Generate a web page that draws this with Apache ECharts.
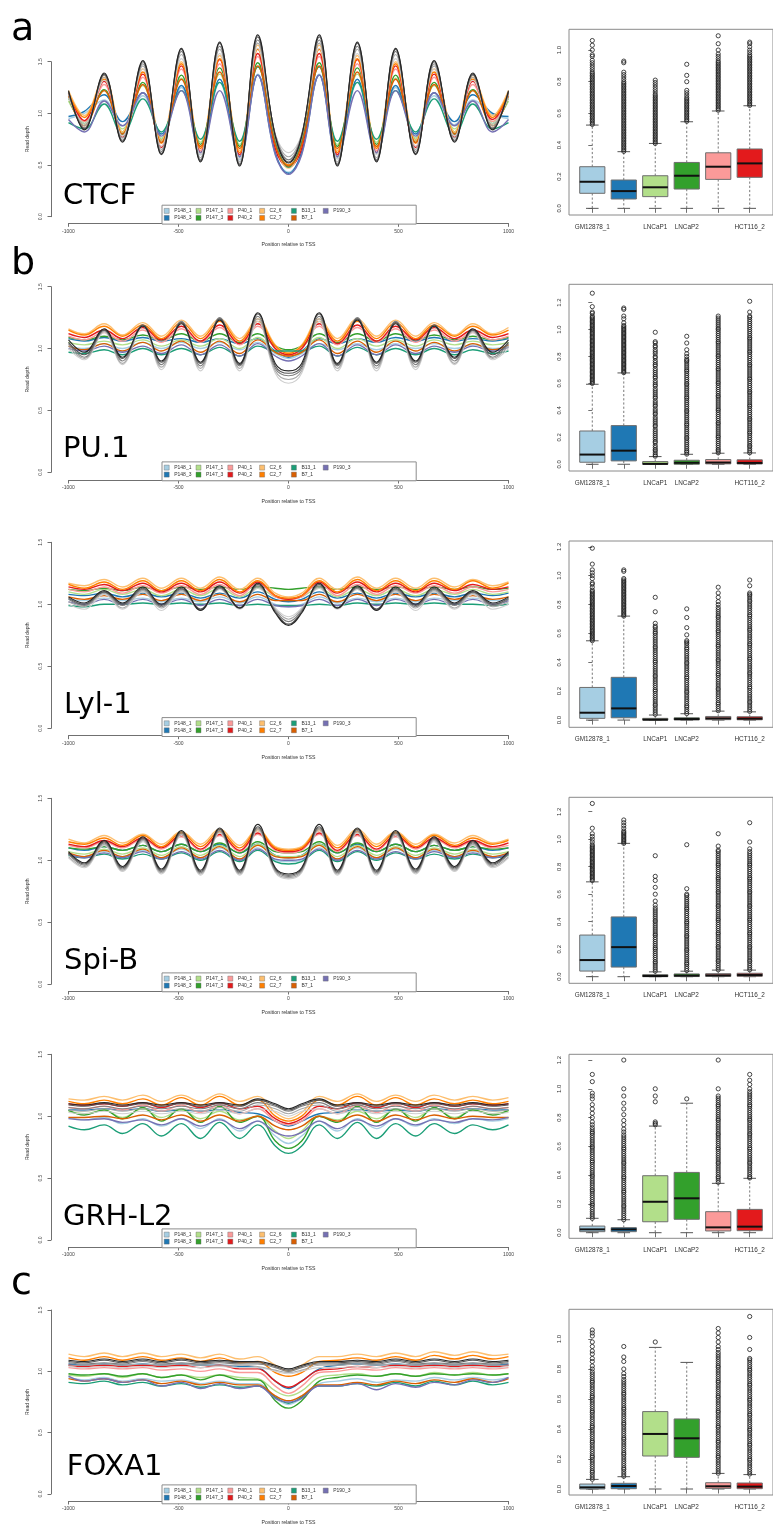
<!DOCTYPE html>
<html>
<head>
<meta charset="utf-8">
<script src="https://cdn.jsdelivr.net/npm/echarts@6/dist/echarts.min.js"></script>
<style>
html,body{margin:0;padding:0;background:#fff}
#chart{width:773px;height:1526px}
</style>
</head>
<body>
<div id="chart"></div>
<script>
// Positions (bp relative to the TSS) at which every read-depth profile is sampled
const positions = [-1000,-928,-838,-755,-662,-578,-487,-400,-313,-222,-140,-60,0,60,140,222,313,400,487,578,662,755,838,928,1000];

const sampleNames  = ['P148_1','P148_3','P147_1','P147_3','P40_1','P40_2','C2_6','C2_7','B13_1','B7_1','P190_3'];
const sampleColors = ['#a6cee3','#1f78b4','#b2df8a','#33a02c','#fb9a99','#e31a1c','#fdbf6f','#ff7f00','#1b9e77','#d95f02','#7570b3'];
const greyShades   = ['#cfcfcf','#a9a9a9','#808080','#555555','#262626'];
// legend reads column by column: two rows, '' starts the second row
const legendOrder  = ['P148_1','P147_1','P40_1','C2_6','B13_1','P190_3','','P148_3','P147_3','P40_2','C2_7','B7_1'];

const factorNames = ['CTCF','PU.1','Lyl-1','Spi-B','GRH-L2','FOXA1'];
const panelLetters = ['a','b','c'];

// ---- CTCF ----
const ctcfProfiles = [
 [0.95,1.00,1.13,0.88,1.17,0.75,1.25,0.60,1.30,0.55,1.38,0.60,0.43,0.61,1.38,0.56,1.30,0.61,1.25,0.76,1.17,0.89,1.13,0.99,0.95],
 [0.97,1.02,1.18,0.92,1.20,0.80,1.27,0.62,1.33,0.58,1.37,0.62,0.42,0.63,1.37,0.58,1.33,0.62,1.27,0.80,1.20,0.92,1.18,1.00,0.97],
 [1.12,0.92,1.22,0.85,1.27,0.76,1.34,0.72,1.38,0.70,1.45,0.72,0.48,0.72,1.45,0.70,1.38,0.72,1.34,0.76,1.27,0.85,1.22,0.92,1.12],
 [1.15,0.90,1.23,0.82,1.30,0.74,1.37,0.70,1.44,0.68,1.49,0.70,0.50,0.70,1.49,0.68,1.44,0.70,1.37,0.74,1.30,0.82,1.23,0.90,1.15],
 [1.18,0.92,1.28,0.78,1.35,0.68,1.43,0.64,1.48,0.62,1.55,0.68,0.50,0.68,1.55,0.62,1.48,0.64,1.43,0.68,1.35,0.78,1.28,0.92,1.18],
 [1.20,0.93,1.31,0.77,1.38,0.67,1.46,0.62,1.52,0.60,1.58,0.66,0.48,0.66,1.58,0.60,1.52,0.62,1.46,0.67,1.38,0.77,1.31,0.94,1.20],
 [1.22,0.98,1.35,0.82,1.43,0.74,1.50,0.68,1.56,0.64,1.66,0.72,0.47,0.72,1.66,0.64,1.56,0.68,1.50,0.74,1.43,0.82,1.35,0.98,1.22],
 [1.20,0.96,1.33,0.80,1.40,0.71,1.48,0.66,1.53,0.62,1.62,0.70,0.50,0.70,1.62,0.62,1.53,0.66,1.48,0.71,1.40,0.80,1.33,0.96,1.20],
 [0.91,0.85,1.09,0.80,1.14,0.82,1.22,0.75,1.30,0.73,1.45,0.72,0.48,0.72,1.45,0.73,1.30,0.75,1.22,0.82,1.14,0.80,1.09,0.85,0.91],
 [1.17,0.88,1.22,0.80,1.28,0.72,1.33,0.68,1.40,0.66,1.46,0.70,0.49,0.70,1.46,0.66,1.40,0.68,1.33,0.72,1.28,0.80,1.22,0.88,1.17],
 [0.94,0.82,1.12,0.88,1.20,0.78,1.22,0.62,1.22,0.58,1.37,0.60,0.41,0.60,1.37,0.58,1.22,0.62,1.22,0.78,1.20,0.88,1.12,0.82,0.94]
];
const ctcfGrey = [
 [1.15,0.90,1.32,0.78,1.43,0.68,1.53,0.60,1.58,0.56,1.63,0.80,0.62,0.80,1.63,0.56,1.58,0.60,1.53,0.68,1.43,0.78,1.32,0.90,1.15],
 [1.18,0.88,1.35,0.76,1.46,0.65,1.57,0.57,1.62,0.53,1.68,0.80,0.58,0.80,1.68,0.53,1.62,0.57,1.57,0.65,1.46,0.76,1.35,0.88,1.18],
 [1.20,0.86,1.37,0.74,1.48,0.63,1.60,0.55,1.65,0.51,1.71,0.79,0.55,0.79,1.71,0.51,1.65,0.55,1.60,0.63,1.48,0.74,1.37,0.86,1.20],
 [1.21,0.85,1.38,0.73,1.50,0.61,1.62,0.54,1.68,0.50,1.74,0.78,0.53,0.78,1.74,0.50,1.68,0.54,1.62,0.61,1.50,0.73,1.38,0.85,1.21],
 [1.22,0.84,1.39,0.72,1.51,0.60,1.63,0.53,1.69,0.49,1.76,0.78,0.52,0.78,1.76,0.49,1.69,0.53,1.63,0.60,1.51,0.72,1.39,0.84,1.22]
];

// ---- PU.1 ----
const pu1Profiles = [
 [1.02,1.00,1.04,1.00,1.05,1.00,1.05,1.00,1.05,0.99,1.05,0.96,0.92,0.96,1.04,0.99,1.04,0.99,1.04,1.00,1.04,1.00,1.03,1.00,1.02],
 [1.08,1.06,1.09,1.06,1.09,1.06,1.08,1.05,1.08,1.04,1.08,0.98,0.93,0.98,1.08,1.04,1.08,1.05,1.09,1.06,1.09,1.06,1.08,1.06,1.08],
 [1.05,1.03,1.06,1.03,1.07,1.02,1.07,1.02,1.08,1.00,1.09,0.97,0.94,0.97,1.09,1.00,1.08,1.02,1.07,1.02,1.07,1.03,1.06,1.03,1.05],
 [1.09,1.07,1.10,1.07,1.11,1.07,1.12,1.06,1.12,1.05,1.12,1.02,0.99,1.02,1.12,1.05,1.12,1.06,1.12,1.07,1.11,1.07,1.10,1.07,1.09],
 [1.10,1.07,1.13,1.06,1.15,1.05,1.16,1.05,1.17,1.03,1.18,1.00,0.94,1.00,1.18,1.03,1.17,1.05,1.16,1.05,1.15,1.06,1.13,1.07,1.10],
 [1.12,1.09,1.15,1.08,1.17,1.07,1.18,1.06,1.19,1.04,1.20,1.00,0.95,1.00,1.20,1.04,1.19,1.06,1.18,1.07,1.17,1.08,1.15,1.09,1.12],
 [1.16,1.12,1.20,1.11,1.21,1.10,1.23,1.10,1.24,1.08,1.24,1.03,0.97,1.03,1.24,1.08,1.24,1.10,1.23,1.10,1.21,1.11,1.20,1.12,1.17],
 [1.15,1.11,1.18,1.10,1.19,1.08,1.21,1.08,1.22,1.06,1.22,1.02,0.96,1.02,1.22,1.06,1.22,1.08,1.21,1.08,1.19,1.10,1.18,1.11,1.15],
 [0.97,0.96,0.99,0.95,1.00,0.95,1.00,0.95,1.01,0.94,1.02,0.98,0.98,0.98,1.02,0.94,1.01,0.95,1.00,0.95,1.00,0.95,0.99,0.96,0.98],
 [1.02,0.99,1.04,0.98,1.05,0.98,1.06,0.97,1.06,0.96,1.07,0.97,0.94,0.97,1.07,0.96,1.06,0.97,1.06,0.98,1.05,0.98,1.04,0.99,1.03],
 [1.00,0.98,1.02,0.97,1.02,0.96,1.03,0.95,1.03,0.94,1.04,0.94,0.90,0.94,1.04,0.94,1.03,0.95,1.03,0.96,1.02,0.97,1.02,0.98,1.01]
];
const pu1Grey = [
 [1.00,0.91,1.13,0.87,1.18,0.83,1.22,0.82,1.24,0.82,1.22,0.80,0.72,0.80,1.22,0.82,1.24,0.82,1.22,0.83,1.18,0.87,1.13,0.91,1.00],
 [1.02,0.92,1.14,0.88,1.18,0.85,1.22,0.84,1.24,0.84,1.24,0.82,0.75,0.82,1.24,0.84,1.24,0.84,1.22,0.85,1.18,0.88,1.14,0.92,1.02],
 [1.04,0.93,1.15,0.90,1.19,0.87,1.22,0.86,1.25,0.86,1.26,0.84,0.78,0.84,1.26,0.86,1.25,0.86,1.22,0.87,1.19,0.90,1.15,0.93,1.04],
 [1.05,0.95,1.15,0.92,1.19,0.89,1.21,0.88,1.24,0.87,1.28,0.86,0.80,0.86,1.28,0.87,1.24,0.88,1.21,0.89,1.19,0.92,1.15,0.95,1.05],
 [1.07,0.97,1.16,0.93,1.18,0.90,1.20,0.89,1.23,0.88,1.29,0.88,0.82,0.88,1.29,0.88,1.23,0.89,1.20,0.90,1.18,0.93,1.16,0.97,1.07]
];

// ---- Lyl-1 ----
const lyl1Profiles = [
 [1.04,1.03,1.05,1.03,1.05,1.02,1.05,1.02,1.06,1.01,1.06,1.00,0.98,1.00,1.06,1.01,1.05,1.02,1.05,1.02,1.05,1.03,1.05,1.03,1.04],
 [1.08,1.07,1.09,1.06,1.09,1.06,1.09,1.05,1.09,1.05,1.10,1.04,1.02,1.04,1.10,1.05,1.09,1.05,1.09,1.06,1.09,1.06,1.09,1.07,1.09],
 [1.10,1.08,1.12,1.08,1.12,1.07,1.12,1.07,1.13,1.06,1.13,1.06,1.04,1.06,1.13,1.06,1.12,1.07,1.12,1.07,1.12,1.08,1.12,1.08,1.10],
 [1.12,1.11,1.13,1.11,1.14,1.11,1.14,1.12,1.14,1.12,1.14,1.13,1.12,1.13,1.14,1.12,1.14,1.12,1.14,1.12,1.14,1.12,1.14,1.12,1.13],
 [1.12,1.10,1.14,1.09,1.15,1.09,1.15,1.08,1.16,1.07,1.17,1.06,1.04,1.06,1.17,1.07,1.16,1.08,1.15,1.09,1.15,1.09,1.14,1.10,1.12],
 [1.14,1.12,1.16,1.11,1.17,1.10,1.17,1.10,1.18,1.09,1.18,1.07,1.04,1.07,1.18,1.09,1.18,1.10,1.17,1.10,1.17,1.11,1.16,1.12,1.14],
 [1.17,1.15,1.20,1.14,1.21,1.13,1.21,1.13,1.22,1.12,1.21,1.09,1.06,1.09,1.21,1.12,1.22,1.13,1.21,1.13,1.21,1.14,1.20,1.15,1.18],
 [1.16,1.13,1.18,1.12,1.19,1.11,1.19,1.11,1.20,1.10,1.19,1.07,1.05,1.07,1.19,1.10,1.20,1.11,1.19,1.11,1.19,1.12,1.19,1.13,1.17],
 [0.99,0.98,1.00,1.00,1.01,1.00,1.01,1.00,1.01,0.99,1.00,0.99,0.99,0.99,1.00,0.99,1.01,1.00,1.01,1.00,1.01,1.00,1.00,0.99,1.00],
 [1.06,1.04,1.07,1.04,1.08,1.03,1.08,1.03,1.08,1.02,1.08,1.03,1.03,1.03,1.08,1.02,1.08,1.03,1.08,1.03,1.08,1.04,1.07,1.04,1.06],
 [1.02,1.00,1.04,1.00,1.04,1.00,1.04,0.99,1.04,0.99,1.04,0.99,0.98,0.99,1.04,0.99,1.04,0.99,1.04,1.00,1.04,1.00,1.04,1.00,1.03]
];
const lyl1Grey = [
 [1.00,0.96,1.08,0.96,1.10,0.95,1.10,0.95,1.12,0.96,1.13,0.97,0.90,0.97,1.13,0.96,1.12,0.95,1.10,0.95,1.10,0.96,1.08,0.96,1.00],
 [1.02,0.98,1.09,0.97,1.11,0.97,1.11,0.96,1.13,0.97,1.14,0.96,0.88,0.96,1.14,0.97,1.13,0.96,1.11,0.97,1.11,0.97,1.09,0.98,1.02],
 [1.04,0.99,1.10,0.99,1.12,0.98,1.12,0.96,1.13,0.97,1.15,0.95,0.86,0.95,1.15,0.97,1.13,0.96,1.12,0.98,1.12,0.99,1.10,0.99,1.04],
 [1.05,1.00,1.10,1.00,1.13,0.99,1.13,0.96,1.14,0.97,1.16,0.94,0.84,0.94,1.16,0.97,1.14,0.96,1.13,0.99,1.13,1.00,1.10,1.00,1.05],
 [1.06,1.01,1.11,1.01,1.14,1.00,1.14,0.95,1.15,0.97,1.17,0.93,0.83,0.93,1.17,0.97,1.15,0.95,1.14,1.00,1.14,1.01,1.11,1.01,1.06]
];

// ---- Spi-B ----
const spibProfiles = [
 [1.05,1.03,1.07,1.03,1.08,1.02,1.09,1.02,1.10,1.01,1.10,1.00,0.99,1.00,1.10,1.01,1.10,1.02,1.09,1.02,1.08,1.03,1.07,1.03,1.05],
 [1.10,1.08,1.11,1.08,1.12,1.07,1.13,1.07,1.13,1.06,1.13,1.04,1.02,1.04,1.13,1.06,1.13,1.07,1.13,1.07,1.12,1.08,1.11,1.08,1.10],
 [1.07,1.05,1.09,1.05,1.10,1.04,1.11,1.04,1.12,1.03,1.13,1.04,1.03,1.04,1.13,1.03,1.12,1.04,1.11,1.04,1.10,1.05,1.09,1.05,1.07],
 [1.10,1.09,1.11,1.08,1.12,1.07,1.13,1.07,1.14,1.06,1.15,1.07,1.06,1.07,1.15,1.06,1.14,1.07,1.13,1.07,1.12,1.08,1.11,1.09,1.10],
 [1.12,1.10,1.15,1.10,1.17,1.09,1.19,1.08,1.20,1.07,1.21,1.08,1.06,1.08,1.21,1.07,1.20,1.08,1.19,1.09,1.17,1.10,1.15,1.10,1.12],
 [1.13,1.11,1.16,1.11,1.18,1.10,1.20,1.09,1.21,1.08,1.22,1.09,1.07,1.09,1.22,1.08,1.21,1.09,1.20,1.10,1.18,1.11,1.16,1.11,1.14],
 [1.17,1.14,1.20,1.14,1.21,1.13,1.23,1.13,1.25,1.12,1.25,1.11,1.09,1.11,1.25,1.12,1.25,1.13,1.23,1.13,1.21,1.14,1.20,1.14,1.17],
 [1.15,1.13,1.18,1.12,1.20,1.11,1.22,1.11,1.23,1.10,1.24,1.10,1.08,1.10,1.24,1.10,1.23,1.11,1.22,1.11,1.20,1.12,1.18,1.13,1.16],
 [1.04,1.02,1.05,1.01,1.05,1.01,1.06,1.00,1.07,0.99,1.08,0.99,0.97,0.99,1.08,0.99,1.07,1.00,1.06,1.01,1.05,1.01,1.05,1.02,1.04],
 [1.06,1.03,1.08,1.03,1.09,1.02,1.10,1.02,1.11,1.01,1.12,1.03,1.02,1.03,1.12,1.01,1.11,1.02,1.10,1.02,1.09,1.03,1.08,1.03,1.06],
 [1.05,1.02,1.06,1.02,1.07,1.01,1.07,1.01,1.08,1.00,1.09,1.01,1.00,1.01,1.09,1.00,1.08,1.01,1.07,1.01,1.07,1.02,1.06,1.02,1.05]
];
const spibGrey = [
 [1.02,0.94,1.12,0.91,1.15,0.89,1.20,0.88,1.22,0.88,1.24,0.90,0.85,0.90,1.24,0.88,1.22,0.88,1.20,0.89,1.15,0.91,1.12,0.94,1.02],
 [1.03,0.95,1.13,0.92,1.16,0.90,1.21,0.89,1.23,0.89,1.25,0.91,0.86,0.91,1.25,0.89,1.23,0.89,1.21,0.90,1.16,0.92,1.13,0.95,1.03],
 [1.05,0.96,1.14,0.93,1.17,0.91,1.22,0.90,1.24,0.90,1.26,0.92,0.87,0.92,1.26,0.90,1.24,0.90,1.22,0.91,1.17,0.93,1.14,0.96,1.05],
 [1.06,0.97,1.15,0.94,1.18,0.92,1.23,0.91,1.25,0.91,1.27,0.93,0.88,0.93,1.27,0.91,1.25,0.91,1.23,0.92,1.18,0.94,1.15,0.97,1.06],
 [1.07,0.98,1.16,0.95,1.19,0.93,1.24,0.92,1.26,0.92,1.29,0.94,0.89,0.94,1.29,0.92,1.26,0.92,1.24,0.93,1.19,0.95,1.16,0.98,1.07]
];

// ---- GRH-L2 ----
const grhl2Profiles = [
 [0.99,0.97,0.99,0.94,0.98,0.92,0.98,0.90,0.98,0.88,0.96,0.84,0.78,0.84,0.96,0.88,0.98,0.90,0.98,0.92,0.98,0.94,0.98,0.96,0.98],
 [1.05,1.05,1.06,1.05,1.06,1.04,1.05,1.04,1.05,1.03,1.02,0.96,0.92,0.96,1.02,1.03,1.05,1.04,1.05,1.04,1.06,1.05,1.06,1.05,1.05],
 [1.04,1.02,1.05,0.99,1.06,0.99,1.05,0.98,1.04,0.97,1.00,0.88,0.82,0.88,1.00,0.97,1.04,0.98,1.05,0.99,1.06,0.99,1.05,1.02,1.04],
 [1.05,1.01,1.05,0.98,1.07,0.96,1.06,0.95,1.08,0.95,1.00,0.80,0.74,0.80,1.00,0.95,1.08,0.95,1.06,0.96,1.07,0.98,1.05,1.01,1.05],
 [1.07,1.06,1.08,1.05,1.09,1.04,1.09,1.03,1.09,1.02,1.06,0.96,0.93,0.96,1.06,1.02,1.09,1.03,1.09,1.04,1.09,1.05,1.08,1.06,1.07],
 [1.10,1.09,1.10,1.08,1.11,1.07,1.11,1.07,1.11,1.06,1.08,0.98,0.94,0.98,1.08,1.06,1.11,1.07,1.11,1.07,1.11,1.08,1.10,1.09,1.10],
 [1.14,1.13,1.16,1.13,1.17,1.12,1.17,1.12,1.18,1.12,1.16,1.03,0.98,1.03,1.16,1.12,1.18,1.12,1.17,1.12,1.17,1.13,1.16,1.13,1.15],
 [1.12,1.10,1.13,1.10,1.14,1.09,1.15,1.09,1.16,1.09,1.13,1.00,0.96,1.00,1.13,1.09,1.16,1.09,1.15,1.09,1.14,1.10,1.13,1.10,1.12],
 [0.92,0.89,0.93,0.86,0.94,0.84,0.94,0.82,0.95,0.82,0.93,0.76,0.70,0.76,0.93,0.82,0.95,0.82,0.94,0.84,0.94,0.86,0.93,0.89,0.93],
 [0.99,0.99,1.00,0.98,1.01,0.97,1.01,0.96,1.01,0.96,1.00,0.92,0.89,0.92,1.00,0.96,1.01,0.96,1.01,0.97,1.01,0.98,1.00,0.99,0.99],
 [0.98,0.97,0.98,0.95,0.97,0.93,0.98,0.92,0.97,0.90,0.96,0.87,0.84,0.87,0.96,0.90,0.97,0.92,0.98,0.93,0.97,0.95,0.98,0.97,0.99]
];
const grhl2Grey = [
 [1.03,1.02,1.04,1.02,1.04,1.02,1.04,1.02,1.05,1.02,1.06,1.04,1.00,1.04,1.06,1.02,1.05,1.02,1.04,1.02,1.04,1.02,1.04,1.02,1.03],
 [1.05,1.04,1.06,1.04,1.06,1.04,1.06,1.04,1.07,1.04,1.09,1.06,1.02,1.06,1.09,1.04,1.07,1.04,1.06,1.04,1.06,1.04,1.06,1.04,1.05],
 [1.07,1.06,1.08,1.06,1.08,1.06,1.08,1.06,1.09,1.06,1.11,1.08,1.04,1.08,1.11,1.06,1.09,1.06,1.08,1.06,1.08,1.06,1.08,1.06,1.07],
 [1.09,1.08,1.10,1.08,1.10,1.08,1.10,1.08,1.10,1.08,1.13,1.09,1.05,1.09,1.13,1.08,1.10,1.08,1.10,1.08,1.10,1.08,1.10,1.08,1.09],
 [1.10,1.09,1.11,1.09,1.11,1.09,1.11,1.09,1.11,1.09,1.14,1.10,1.06,1.10,1.14,1.09,1.11,1.09,1.11,1.09,1.11,1.09,1.11,1.09,1.10]
];

// ---- FOXA1 ----
const foxa1Profiles = [
 [0.95,0.93,0.95,0.92,0.94,0.92,0.93,0.90,0.92,0.90,0.90,0.78,0.73,0.78,0.90,0.92,0.94,0.91,0.93,0.92,0.95,0.93,0.95,0.93,0.95],
 [1.06,1.05,1.06,1.05,1.06,1.05,1.06,1.05,1.05,1.04,1.03,0.92,0.86,0.92,1.02,1.05,1.06,1.05,1.06,1.05,1.06,1.05,1.06,1.05,1.06],
 [0.97,0.96,0.98,0.95,0.98,0.95,0.97,0.95,0.97,0.95,0.94,0.84,0.80,0.84,0.95,0.97,0.98,0.96,0.98,0.96,0.99,0.97,0.99,0.97,0.98],
 [0.98,0.97,0.98,0.96,0.98,0.95,0.97,0.93,0.97,0.93,0.93,0.76,0.70,0.76,0.92,0.95,0.97,0.96,0.98,0.96,0.98,0.97,0.98,0.97,0.98],
 [1.03,1.02,1.03,1.02,1.03,1.01,1.02,1.00,1.02,0.99,0.99,0.88,0.82,0.88,0.99,1.00,1.02,1.01,1.03,1.02,1.03,1.02,1.03,1.02,1.03],
 [1.05,1.04,1.05,1.04,1.05,1.04,1.05,1.03,1.05,1.02,1.02,0.92,0.87,0.92,1.01,1.02,1.04,1.03,1.05,1.04,1.05,1.04,1.05,1.04,1.05],
 [1.14,1.12,1.15,1.12,1.15,1.12,1.14,1.11,1.14,1.10,1.12,1.05,1.00,1.05,1.12,1.12,1.14,1.12,1.15,1.12,1.16,1.13,1.16,1.13,1.14],
 [1.11,1.09,1.12,1.09,1.12,1.09,1.11,1.08,1.11,1.07,1.08,0.99,0.96,0.99,1.08,1.09,1.11,1.09,1.12,1.09,1.13,1.10,1.13,1.10,1.12],
 [0.91,0.90,0.92,0.89,0.91,0.88,0.90,0.87,0.89,0.87,0.88,0.79,0.74,0.79,0.88,0.88,0.90,0.88,0.91,0.88,0.92,0.89,0.92,0.89,0.91],
 [0.94,0.92,0.94,0.91,0.93,0.90,0.92,0.89,0.91,0.89,0.89,0.80,0.76,0.80,0.89,0.89,0.91,0.89,0.92,0.90,0.93,0.91,0.94,0.91,0.94],
 [0.96,0.92,0.94,0.91,0.93,0.88,0.91,0.86,0.90,0.86,0.88,0.78,0.75,0.78,0.88,0.88,0.90,0.85,0.90,0.87,0.91,0.89,0.93,0.91,0.95]
];
const foxa1Grey = [
 [1.04,1.03,1.04,1.03,1.04,1.03,1.04,1.03,1.04,1.03,1.03,1.00,0.98,1.00,1.03,1.03,1.04,1.03,1.04,1.03,1.04,1.03,1.04,1.03,1.04],
 [1.05,1.05,1.06,1.05,1.06,1.05,1.06,1.05,1.05,1.05,1.04,1.01,0.99,1.01,1.05,1.05,1.06,1.05,1.06,1.05,1.06,1.05,1.06,1.05,1.05],
 [1.07,1.06,1.07,1.06,1.08,1.06,1.07,1.06,1.07,1.06,1.06,1.03,1.00,1.03,1.06,1.06,1.07,1.06,1.08,1.06,1.07,1.06,1.07,1.06,1.07],
 [1.08,1.07,1.09,1.07,1.09,1.07,1.09,1.07,1.08,1.07,1.07,1.04,1.01,1.04,1.07,1.07,1.08,1.07,1.09,1.07,1.09,1.07,1.09,1.07,1.08],
 [1.09,1.08,1.10,1.08,1.10,1.08,1.10,1.08,1.09,1.08,1.08,1.05,1.02,1.05,1.08,1.08,1.09,1.08,1.10,1.08,1.10,1.08,1.10,1.08,1.09]
];

// ---- Box plots: per cell line [lower whisker, Q1, median, Q3, upper whisker] ----
const boxLabels = ['GM12878_1','','LNCaP1','LNCaP2','','HCT116_2'];
const boxColors = ['#a6cee3','#1f78b4','#b2df8a','#33a02c','#fb9a99','#e31a1c'];
const ticksTo1  = [0,0.2,0.4,0.6,0.8,1.0];
const ticksTo12 = [0,0.2,0.4,0.6,0.8,1.0,1.2];

const ctcfBoxes = [[0,0.095,0.168,0.263,0.526],[0,0.059,0.109,0.179,0.358],[0,0.074,0.133,0.206,0.41],[0,0.122,0.206,0.29,0.547],[0,0.183,0.263,0.351,0.615],[0,0.196,0.284,0.375,0.648]];
const ctcfOutliers = [
 [.53,.54,.55,.56,.57,.58,.59,.6,.61,.62,.63,.64,.65,.66,.67,.68,.69,.7,.71,.72,.73,.74,.75,.76,.77,.78,.79,.8,.81,.82,.83,.84,.85,.86,.875,.89,.905,.92,.935,.96,.97,1,1.03,1.06],
 [.36,.37,.38,.39,.4,.41,.42,.43,.44,.45,.46,.47,.48,.49,.5,.51,.52,.53,.54,.55,.56,.57,.58,.59,.6,.61,.62,.63,.64,.65,.66,.67,.68,.69,.7,.71,.72,.73,.74,.75,.76,.77,.78,.79,.8,.815,.83,.845,.86,.92,.93],
 [.41,.42,.43,.44,.45,.46,.47,.48,.49,.5,.51,.52,.53,.54,.55,.56,.57,.58,.59,.6,.61,.62,.63,.64,.65,.66,.67,.68,.69,.7,.71,.72,.735,.75,.765,.78,.795,.81],
 [.55,.56,.57,.58,.59,.6,.61,.62,.63,.64,.65,.66,.67,.68,.69,.7,.715,.73,.745,.8,.84,.91],
 [.62,.63,.64,.65,.66,.67,.68,.69,.7,.71,.72,.73,.74,.75,.76,.77,.78,.79,.8,.81,.82,.83,.84,.85,.86,.87,.88,.89,.9,.91,.92,.93,.945,.96,.975,1,1.04,1.09],
 [.65,.66,.67,.68,.69,.7,.71,.72,.73,.74,.75,.76,.77,.78,.79,.8,.81,.82,.83,.84,.85,.86,.87,.88,.89,.9,.91,.92,.93,.94,.95,.96,.97,.985,1,1.02,1.04,1.05]
];

const pu1Boxes = [[0,0.015,0.072,0.247,0.594],[0,0.025,0.101,0.287,0.678],[0,0,0.003,0.02,0.057],[0,0,0.011,0.03,0.074],[0,0.003,0.013,0.035,0.082],[0,0.002,0.01,0.033,0.084]];
const pu1Outliers = [
 [.6,.61,.62,.63,.64,.65,.66,.67,.68,.69,.7,.71,.72,.73,.74,.75,.76,.77,.78,.79,.8,.81,.82,.83,.84,.85,.86,.87,.88,.89,.9,.91,.92,.93,.94,.95,.96,.97,.98,.99,1,1.01,1.02,1.03,1.04,1.05,1.06,1.07,1.08,1.09,1.1,1.12,1.13,1.17,1.27],
 [.68,.69,.7,.71,.72,.73,.74,.75,.76,.77,.78,.79,.8,.81,.82,.83,.84,.85,.86,.87,.88,.89,.9,.91,.92,.93,.94,.95,.96,.97,.98,.99,1,1.01,1.02,1.03,1.05,1.08,1.1,1.15,1.16],
 [.06,.07,.085,.1,.11,.125,.14,.16,.17,.185,.2,.215,.23,.245,.26,.28,.29,.305,.32,.335,.35,.37,.38,.395,.41,.43,.44,.455,.47,.49,.5,.515,.53,.545,.56,.58,.59,.605,.62,.64,.65,.665,.68,.695,.71,.73,.74,.755,.77,.79,.8,.82,.835,.85,.87,.88,.9,.91,.98],
 [.075,.09,.1,.115,.13,.145,.16,.175,.19,.2,.215,.23,.245,.26,.275,.29,.3,.315,.33,.345,.36,.375,.39,.4,.415,.43,.445,.46,.475,.49,.5,.515,.53,.545,.56,.575,.59,.6,.615,.63,.645,.66,.675,.69,.7,.715,.73,.745,.76,.77,.78,.8,.82,.85,.9,.95],
 [.085,.1,.11,.125,.14,.155,.17,.185,.2,.21,.225,.24,.255,.27,.285,.3,.31,.325,.34,.355,.37,.385,.4,.41,.425,.44,.455,.47,.485,.5,.51,.525,.54,.555,.57,.585,.6,.61,.625,.64,.655,.67,.685,.7,.71,.725,.74,.755,.77,.785,.8,.81,.825,.84,.855,.87,.885,.9,.91,.925,.94,.955,.97,.985,1,1.01,1.025,1.04,1.055,1.07,1.085,1.1],
 [.085,.1,.115,.13,.14,.155,.17,.185,.2,.215,.23,.24,.255,.27,.285,.3,.315,.33,.34,.355,.37,.385,.4,.415,.43,.44,.455,.47,.485,.5,.515,.53,.54,.555,.57,.585,.6,.615,.63,.64,.655,.67,.685,.7,.715,.73,.74,.755,.77,.785,.8,.815,.83,.84,.855,.87,.885,.9,.915,.93,.94,.955,.97,.985,1,1.015,1.03,1.045,1.06,1.075,1.09,1.1,1.13,1.21]
];

const lyl1Boxes = [[0,0.012,0.051,0.226,0.549],[0,0.016,0.081,0.296,0.72],[0,0,0.003,0.012,0.035],[0,0.001,0.007,0.016,0.044],[0,0.003,0.012,0.025,0.062],[0,0.002,0.01,0.023,0.057]];
const lyl1Outliers = [
 [.55,.56,.57,.58,.59,.6,.61,.62,.63,.64,.65,.66,.67,.68,.69,.7,.71,.72,.73,.74,.75,.76,.77,.78,.79,.8,.81,.82,.83,.84,.85,.86,.87,.88,.89,.9,.92,.94,.95,.98,1,1.02,1.04,1.08,1.19],
 [.72,.73,.74,.75,.76,.77,.78,.79,.8,.81,.82,.83,.84,.85,.86,.87,.88,.89,.9,.91,.92,.93,.94,.95,.96,.97,.98,1.03,1.04],
 [.04,.055,.07,.085,.1,.11,.125,.14,.155,.17,.185,.2,.21,.225,.24,.255,.27,.285,.3,.31,.325,.34,.355,.37,.385,.4,.41,.425,.44,.455,.47,.485,.5,.51,.525,.54,.555,.57,.585,.6,.61,.625,.64,.65,.67,.75,.85],
 [.045,.06,.075,.09,.1,.115,.13,.145,.16,.175,.19,.2,.215,.23,.245,.26,.275,.29,.3,.315,.33,.345,.36,.375,.39,.4,.415,.43,.445,.46,.475,.49,.5,.515,.53,.54,.55,.59,.64,.71,.77],
 [.065,.08,.095,.11,.12,.135,.15,.165,.18,.195,.21,.22,.235,.25,.265,.28,.295,.31,.32,.335,.35,.365,.38,.395,.41,.42,.435,.45,.465,.48,.495,.51,.52,.535,.55,.565,.58,.595,.61,.62,.635,.65,.665,.68,.695,.71,.72,.735,.75,.765,.78,.8,.82,.85,.88,.92],
 [.06,.075,.09,.105,.12,.13,.145,.16,.175,.19,.205,.22,.23,.245,.26,.275,.29,.305,.32,.33,.345,.36,.375,.39,.405,.42,.43,.445,.46,.475,.49,.505,.52,.53,.545,.56,.575,.59,.605,.62,.63,.645,.66,.675,.69,.705,.72,.73,.745,.76,.775,.79,.805,.82,.83,.845,.86,.87,.88,.93,.97]
];

const spibBoxes = [[0,0.041,0.121,0.303,0.69],[0,0.07,0.215,0.435,0.97],[0,0,0.005,0.015,0.035],[0,0.001,0.008,0.02,0.04],[0,0.002,0.01,0.022,0.048],[0,0.003,0.012,0.025,0.048]];
const spibOutliers = [
 [.7,.71,.72,.73,.74,.75,.76,.77,.78,.79,.8,.81,.82,.83,.84,.85,.86,.87,.88,.89,.9,.91,.92,.93,.94,.95,.96,.98,1,1.02,1.04,1.08,1.26],
 [.97,.98,.99,1,1.01,1.02,1.03,1.04,1.05,1.06,1.08,1.1,1.12,1.14],
 [.04,.055,.07,.085,.1,.11,.125,.14,.155,.17,.185,.2,.21,.225,.24,.255,.27,.285,.3,.31,.325,.34,.355,.37,.385,.4,.41,.425,.44,.455,.47,.485,.5,.52,.55,.6,.65,.7,.73,.88],
 [.045,.06,.075,.09,.1,.115,.13,.145,.16,.175,.19,.2,.215,.23,.245,.26,.275,.29,.3,.315,.33,.345,.36,.375,.39,.4,.415,.43,.445,.46,.475,.49,.5,.515,.53,.545,.56,.575,.59,.6,.64,.96],
 [.05,.065,.08,.095,.11,.12,.135,.15,.165,.18,.195,.21,.22,.235,.25,.265,.28,.295,.31,.32,.335,.35,.365,.38,.395,.41,.42,.435,.45,.465,.48,.495,.51,.52,.535,.55,.565,.58,.595,.61,.62,.635,.65,.665,.68,.695,.71,.72,.735,.75,.765,.78,.795,.81,.82,.835,.85,.865,.88,.895,.91,.92,.95,1.04],
 [.05,.065,.08,.095,.11,.12,.135,.15,.165,.18,.195,.21,.22,.235,.25,.265,.28,.295,.31,.32,.335,.35,.365,.38,.395,.41,.42,.435,.45,.465,.48,.495,.51,.52,.535,.55,.565,.58,.595,.61,.62,.635,.65,.665,.68,.695,.71,.72,.735,.75,.765,.78,.795,.81,.82,.835,.85,.865,.88,.895,.91,.93,.98,1.12]
];

const grhl2Boxes = [[0,0.007,0.023,0.046,0.1],[0,0.007,0.023,0.035,0.09],[0,0.076,0.215,0.396,0.741],[0,0.093,0.239,0.419,0.9],[0,0.012,0.037,0.146,0.343],[0,0.014,0.042,0.162,0.378]];
const grhl2Outliers = [
 [.1,.115,.13,.145,.16,.175,.19,.2,.215,.23,.245,.26,.275,.29,.3,.315,.33,.345,.36,.375,.39,.4,.415,.43,.445,.46,.475,.49,.5,.515,.53,.545,.56,.575,.59,.6,.615,.63,.645,.66,.675,.69,.7,.715,.73,.75,.77,.8,.83,.86,.89,.93,.95,.97,1.05,1.1],
 [.09,.105,.12,.135,.15,.165,.18,.19,.205,.22,.235,.25,.265,.28,.29,.305,.32,.335,.35,.365,.38,.39,.405,.42,.435,.45,.465,.48,.49,.505,.52,.535,.55,.565,.58,.59,.605,.62,.635,.65,.665,.68,.7,.72,.75,.78,.82,.86,.9,.95,1,1.2],
 [.75,.76,.77,.91,.95,1],
 [.93],
 [.35,.365,.38,.39,.405,.42,.435,.45,.465,.48,.49,.505,.52,.535,.55,.565,.58,.59,.605,.62,.635,.65,.665,.68,.69,.705,.72,.735,.75,.765,.78,.79,.805,.82,.835,.85,.865,.88,.89,.905,.92,.935,.95,1,1.2],
 [.38,.39,.405,.42,.435,.45,.465,.48,.49,.505,.52,.535,.55,.565,.58,.59,.605,.62,.635,.65,.665,.68,.69,.705,.72,.735,.75,.765,.78,.79,.805,.82,.835,.85,.865,.88,.89,.905,.92,.935,.95,.965,.98,1,1.03,1.06,1.1]
];

const foxa1Boxes = [[0,0,0.011,0.033,0.064],[0,0.002,0.02,0.038,0.082],[0,0.22,0.367,0.516,0.944],[0,0.211,0.338,0.467,0.844],[0,0.004,0.018,0.042,0.104],[0,0.002,0.016,0.04,0.096]];
const foxa1Outliers = [
 [.065,.08,.095,.11,.12,.135,.15,.165,.18,.195,.21,.22,.235,.25,.265,.28,.295,.31,.32,.335,.35,.365,.38,.395,.41,.42,.435,.45,.465,.48,.495,.51,.52,.535,.55,.565,.58,.595,.61,.62,.635,.65,.665,.68,.695,.71,.72,.735,.75,.765,.78,.8,.82,.85,.87,.9,.92,.95,.98,1.02,1.04,1.06],
 [.085,.1,.115,.13,.14,.155,.17,.185,.2,.215,.23,.24,.255,.27,.285,.3,.315,.33,.34,.355,.37,.385,.4,.415,.43,.44,.455,.47,.485,.5,.515,.53,.54,.555,.57,.585,.6,.615,.63,.64,.655,.67,.685,.7,.715,.73,.75,.77,.8,.85,.88,.95],
 [.98],
 [],
 [.105,.12,.135,.15,.165,.18,.195,.21,.22,.235,.25,.265,.28,.295,.31,.32,.335,.35,.365,.38,.395,.41,.42,.435,.45,.465,.48,.495,.51,.52,.535,.55,.565,.58,.595,.61,.62,.635,.65,.665,.68,.695,.71,.72,.735,.75,.765,.78,.795,.81,.82,.835,.85,.865,.88,.895,.91,.93,.95,.98,1.01,1.04,1.07],
 [.1,.115,.13,.145,.16,.175,.19,.2,.215,.23,.245,.26,.275,.29,.3,.315,.33,.345,.36,.375,.39,.4,.415,.43,.445,.46,.475,.49,.5,.515,.53,.545,.56,.575,.59,.6,.615,.63,.645,.66,.675,.69,.7,.715,.73,.745,.76,.775,.79,.8,.815,.83,.845,.86,.87,.93,1.01,1.15]
];

// ---- Page layout (pixels) for each row of the figure ----
const rowLayout = [
 {top:61.7,  zero:216.7, axis:223.3, boxTop:29.3,   boxBottom:215,    boxMin:-0.042, boxMax:1.131, ticks:ticksTo1,  labelX:63,   labelY:203},
 {top:286.7, zero:472.3, axis:480,   boxTop:284.3,  boxBottom:471,    boxMin:-0.05,  boxMax:1.336, ticks:ticksTo12, labelX:63,   labelY:456.7},
 {top:542.3, zero:728.3, axis:735.7, boxTop:541,    boxBottom:727.3,  boxMin:-0.05,  boxMax:1.24,  ticks:ticksTo12, labelX:64,   labelY:712.7},
 {top:798.3, zero:984.3, axis:991,   boxTop:797.3,  boxBottom:983.3,  boxMin:-0.048, boxMax:1.305, ticks:ticksTo12, labelX:64,   labelY:968.3},
 {top:1054.3,zero:1240,  axis:1247,  boxTop:1054.3, boxBottom:1238.3, boxMin:-0.039, boxMax:1.24,  ticks:ticksTo12, labelX:63,   labelY:1224},
 {top:1310,  zero:1496,  axis:1503,  boxTop:1309.3, boxBottom:1495,   boxMin:-0.04,  boxMax:1.198, ticks:ticksTo1,  labelX:66.7, labelY:1474}
];
const letterLayout = [{x:11, y:40}, {x:11, y:274}, {x:11, y:1294}];

const rows = [
 {profiles: ctcfProfiles,  grey: ctcfGrey,  boxes: ctcfBoxes,  outliers: ctcfOutliers},
 {profiles: pu1Profiles,   grey: pu1Grey,   boxes: pu1Boxes,   outliers: pu1Outliers},
 {profiles: lyl1Profiles,  grey: lyl1Grey,  boxes: lyl1Boxes,  outliers: lyl1Outliers},
 {profiles: spibProfiles,  grey: spibGrey,  boxes: spibBoxes,  outliers: spibOutliers},
 {profiles: grhl2Profiles, grey: grhl2Grey, boxes: grhl2Boxes, outliers: grhl2Outliers},
 {profiles: foxa1Profiles, grey: foxa1Grey, boxes: foxa1Boxes, outliers: foxa1Outliers}
];

const AXIS_FONT = '"Liberation Sans", Arial, sans-serif';
const axisLineStyle = {color:'#707070', width:1};

const grid = [], xAxis = [], yAxis = [], series = [], legend = [], graphic = [];

function drawBox(params, api) {
  const i = api.value(0);
  const lo = api.value(1), q1 = api.value(2), med = api.value(3), q3 = api.value(4), hi = api.value(5);
  const c = (x, y) => api.coord([x, y]);
  const tl = c(i - 0.4, q3), br = c(i + 0.4, q1);
  const ml = c(i - 0.4, med), mr = c(i + 0.4, med);
  const top = c(i, hi), up = c(i, q3), dn = c(i, q1), bot = c(i, lo);
  const capL = c(i - 0.2, hi), capR = c(i + 0.2, hi);
  const capL2 = c(i - 0.2, lo), capR2 = c(i + 0.2, lo);
  const whisk = {stroke:'#6a6a6a', lineWidth:0.9, lineDash:[2.2, 2]};
  const cap = {stroke:'#555', lineWidth:1};
  return {type:'group', children:[
    {type:'line', shape:{x1:up[0], y1:up[1], x2:top[0], y2:top[1]}, style:whisk},
    {type:'line', shape:{x1:dn[0], y1:dn[1], x2:bot[0], y2:bot[1]}, style:whisk},
    {type:'line', shape:{x1:capL[0], y1:capL[1], x2:capR[0], y2:capR[1]}, style:cap},
    {type:'line', shape:{x1:capL2[0], y1:capL2[1], x2:capR2[0], y2:capR2[1]}, style:cap},
    {type:'rect', shape:{x:tl[0], y:tl[1], width:br[0]-tl[0], height:Math.max(br[1]-tl[1], 0.5)},
      style:{fill:boxColors[params.dataIndex], stroke:'#6e6e6e', lineWidth:1}},
    {type:'line', shape:{x1:ml[0], y1:ml[1], x2:mr[0], y2:mr[1]}, style:{stroke:'#111', lineWidth:2}}
  ]};
}

rows.forEach((row, r) => {
  const L = rowLayout[r];
  const li = 2 * r, bi = 2 * r + 1;

  // profile panel
  grid.push({left:68.5, width:440, top:L.top, height:L.zero - L.top, show:false});
  xAxis.push({
    gridIndex: li, type:'value', min:-1000, max:1000, interval:500, offset: L.axis - L.zero,
    axisLine:{show:true, onZero:false, lineStyle:axisLineStyle},
    axisTick:{show:true, length:3.5, lineStyle:axisLineStyle},
    axisLabel:{fontSize:5, color:'#444', margin:5.5, fontFamily:AXIS_FONT, hideOverlap:false,
      formatter: v => String(v)},
    splitLine:{show:false},
    name:'Position relative to TSS', nameLocation:'middle', nameGap:19,
    nameTextStyle:{fontSize:5.2, color:'#333', fontFamily:AXIS_FONT}
  });
  yAxis.push({
    gridIndex: li, type:'value', min:0, max:1.5, interval:0.5, offset:17.5,
    axisLine:{show:true, onZero:false, lineStyle:axisLineStyle},
    axisTick:{show:true, length:3.5, lineStyle:axisLineStyle},
    axisLabel:{fontSize:5, color:'#444', margin:8, rotate:90, fontFamily:AXIS_FONT,
      formatter: v => v.toFixed(1)},
    splitLine:{show:false},
    name:'Read depth', nameLocation:'middle', nameGap:19.5, nameRotate:90,
    nameTextStyle:{fontSize:5, color:'#333', fontFamily:AXIS_FONT}
  });

  row.profiles.forEach((vals, k) => {
    series.push({
      type:'line', name: sampleNames[k], xAxisIndex: li, yAxisIndex: li,
      data: positions.map((p, j) => [p, vals[j]]),
      smooth:0.4, symbol:'none', silent:true, animation:false, clip:false,
      lineStyle:{color: sampleColors[k], width:1.4},
      itemStyle:{color: sampleColors[k]}
    });
  });
  row.grey.forEach((vals, k) => {
    series.push({
      type:'line', name:'grey' + k, xAxisIndex: li, yAxisIndex: li,
      data: positions.map((p, j) => [p, vals[j]]),
      smooth:0.4, symbol:'none', silent:true, animation:false, clip:false,
      lineStyle:{color: greyShades[k], width:1.1},
      itemStyle:{color: greyShades[k]}
    });
  });

  legend.push({
    data: legendOrder, orient:'horizontal', left:162, top: L.axis - 18.1, width:400,
    padding:[3, 63, 3.5, 2], itemGap:1.6, itemWidth:5, itemHeight:5, icon:'rect',
    selectedMode:false, backgroundColor:'#fff', borderColor:'#8c8c8c', borderWidth:1,
    itemStyle:{borderColor:'#666', borderWidth:0.4},
    textStyle:{fontSize:5, color:'#333', fontFamily:AXIS_FONT, width:20, lineHeight:5}
  });

  // box-plot panel
  grid.push({left:569, width:209, top:L.boxTop, height:L.boxBottom - L.boxTop,
    show:true, borderColor:'#8a8a8a', borderWidth:1, backgroundColor:'transparent'});
  xAxis.push({
    gridIndex: bi, type:'value', min:-0.74, max:5.74,
    axisLine:{show:false},
    axisTick:{show:true, length:4.5, lineStyle:axisLineStyle, customValues:[0,1,2,3,4,5]},
    axisLabel:{fontSize:6.4, color:'#333', margin:9, fontFamily:AXIS_FONT, hideOverlap:false,
      customValues:[0,2,3,5], formatter: v => boxLabels[Math.round(v)]},
    splitLine:{show:false}
  });
  yAxis.push({
    gridIndex: bi, type:'value', min:L.boxMin, max:L.boxMax,
    axisLine:{show:false},
    axisTick:{show:true, length:4, lineStyle:axisLineStyle, customValues:L.ticks},
    axisLabel:{fontSize:6, color:'#333', margin:7, rotate:90, fontFamily:AXIS_FONT, hideOverlap:false,
      customValues:L.ticks, formatter: v => v.toFixed(1)},
    splitLine:{show:false}
  });
  series.push({
    type:'custom', xAxisIndex: bi, yAxisIndex: bi, silent:true, animation:false,
    data: row.boxes.map((b, i) => [i, b[0], b[1], b[2], b[3], b[4]]),
    encode:{x:0, y:[1,2,3,4,5]},
    renderItem: drawBox
  });
  const pts = [];
  row.outliers.forEach((vals, i) => vals.forEach(v => pts.push([i, v])));
  series.push({
    type:'scatter', xAxisIndex: bi, yAxisIndex: bi, silent:true, animation:false,
    data: pts, symbol:'circle', symbolSize:4.2,
    itemStyle:{color:'rgba(0,0,0,0)', borderColor:'#1a1a1a', borderWidth:1}
  });

  // factor name inside the profile panel
  graphic.push({
    type:'text', left: L.labelX, top: L.labelY - 21.5, silent:true,
    style:{text: factorNames[r], font:'29px "DejaVu Sans"', fill:'#000'}
  });
});

panelLetters.forEach((t, i) => {
  graphic.push({
    type:'text', left: letterLayout[i].x, top: letterLayout[i].y - 29, silent:true,
    style:{text: t, font:'38px "DejaVu Sans"', fill:'#000'}
  });
});

const chart = echarts.init(document.getElementById('chart'), null, {renderer:'canvas'});
chart.setOption({
  animation:false,
  backgroundColor:'#fff',
  grid, xAxis, yAxis, series, legend, graphic
});
</script>
</body>
</html>
